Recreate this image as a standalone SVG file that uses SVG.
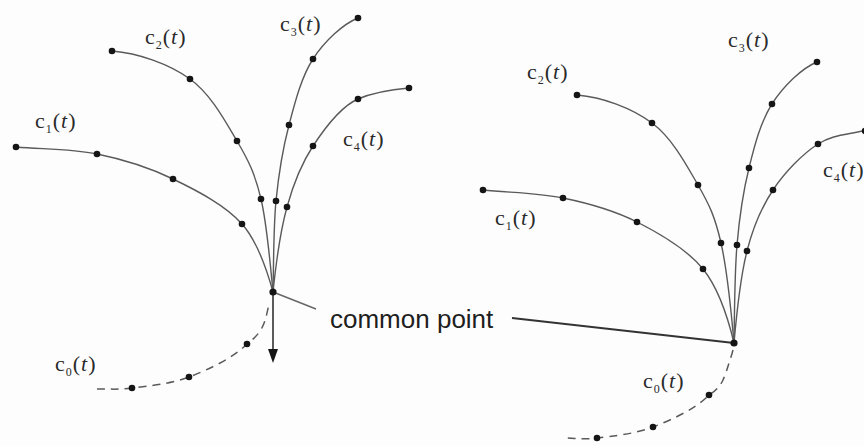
<svg xmlns="http://www.w3.org/2000/svg" width="864" height="446" viewBox="0 0 864 446">
<defs>
<style>
.crv{fill:none;stroke:#5a5a5a;stroke-width:1.4}
.dash{fill:none;stroke:#5a5a5a;stroke-width:1.5;stroke-dasharray:8 6}
.lead{fill:none;stroke:#333;stroke-width:1.8}
.dot{fill:#151515}
.lbl{font-family:"Liberation Serif","Times New Roman",serif;font-size:22px;fill:#2a2a2a;letter-spacing:1px}
.sub{font-size:12px}
.it{font-style:italic}
.cp{font-family:"Liberation Sans",Arial,sans-serif;font-size:26px;fill:#1e1e1e}
</style>
</defs>
<rect width="864" height="446" fill="#fdfdfd"/>
<g id="connectors">
<path class="crv" d="M16,147 C43,149.3 70.8,148.7 97,154 C123.2,159.3 148.8,167.3 173,179 C197.2,190.7 225.3,205.2 242,224 C258.7,242.8 267.7,272.7 273,292"/>
<path class="crv" d="M112,51 C138,53 169.2,64 190,79 C210.8,94 225.2,121 237,141 C248.8,161 255,173.8 261,199 C267,224.2 270.7,268.5 273,292"/>
<path class="crv" d="M358,18 C343,24 324.5,41.2 313,59 C301.5,76.8 295.2,101.3 289,125 C282.8,148.7 278.7,173.2 276,201 C273.3,228.8 273.7,268.8 273,292"/>
<path class="crv" d="M409,88 C392,89.5 372,93 358,99 C342,105.9 324.8,128 313,146 C301.2,164 293.7,182.7 287,207 C280.3,231.3 275.3,269.8 273,292"/>
<path class="dash" d="M268.2,307.7 C266,318 265,322 261,329.8 C256,337 252,340 247,344 C233,358.2 208.2,369.7 189,377 C169.8,384.3 147.3,386 132,388 C116.7,390 108.7,388.7 97,389"/>
<line x1="273" y1="292" x2="273" y2="352" style="stroke:#333;stroke-width:1.6"/>
<polygon points="268,349 278,349 273,363" fill="#151515"/>
<line x1="273" y1="292" x2="316" y2="309" style="stroke:#666;stroke-width:1.4"/>
<path class="crv" d="M483,190 C509.7,192.7 537.3,192.7 563,198 C588.7,203.3 613.7,210.2 637,222 C660.3,233.8 686.8,248.8 703,269 C719.2,289.2 728.8,321.2 734,343"/>
<path class="crv" d="M577,95 C602,97 631.8,108 652,123 C672.2,138 686.5,165 698,185 C709.5,205 715,216.7 721,243 C727,269.3 731.7,316.8 734,343"/>
<path class="crv" d="M817,62 C802,68 783.3,86.3 772,104 C760.7,121.7 754.8,144.5 749,168 C743.2,191.5 739.5,215.8 737,245 C734.5,274.2 734.5,317.2 734,343"/>
<path class="crv" d="M866,130 C850,134.7 833.5,134 818,144 C802.5,154 784.8,172.2 773,190 C761.2,207.8 753.5,225.5 747,251 C740.5,276.5 736.2,318.2 734,343"/>
<path class="dash" d="M733,350 C731.5,356 729.7,360.5 729.7,360.5 C727,370 725,376 722.5,381 C719,388 714,392 709,395 C695.5,409 671.7,419.8 653,427 C634.3,434.2 611.7,436.2 597,438 C582.3,439.8 575.7,438 565,438"/>
<line class="lead" x1="512" y1="318" x2="734" y2="343"/>
</g>
<g id="dots-left">
<circle class="dot" cx="16" cy="147" r="3.3"/>
<circle class="dot" cx="97" cy="154" r="3.3"/>
<circle class="dot" cx="173" cy="179" r="3.3"/>
<circle class="dot" cx="242" cy="224" r="3.3"/>
<circle class="dot" cx="112" cy="51" r="3.3"/>
<circle class="dot" cx="190" cy="79" r="3.3"/>
<circle class="dot" cx="237" cy="141" r="3.3"/>
<circle class="dot" cx="261" cy="199" r="3.3"/>
<circle class="dot" cx="358" cy="18" r="3.3"/>
<circle class="dot" cx="313" cy="59" r="3.3"/>
<circle class="dot" cx="289" cy="125" r="3.3"/>
<circle class="dot" cx="276" cy="201" r="3.3"/>
<circle class="dot" cx="409" cy="88" r="3.3"/>
<circle class="dot" cx="358" cy="99" r="3.3"/>
<circle class="dot" cx="313" cy="146" r="3.3"/>
<circle class="dot" cx="287" cy="207" r="3.3"/>
<circle class="dot" cx="247" cy="344" r="3.3"/>
<circle class="dot" cx="189" cy="377" r="3.3"/>
<circle class="dot" cx="132" cy="388" r="3.3"/>
</g>
<g id="common-left"><circle class="dot" cx="273" cy="292" r="3.6"/></g>
<g id="dots-right">
<circle class="dot" cx="483" cy="190" r="3.3"/>
<circle class="dot" cx="563" cy="198" r="3.3"/>
<circle class="dot" cx="637" cy="222" r="3.3"/>
<circle class="dot" cx="703" cy="269" r="3.3"/>
<circle class="dot" cx="577" cy="95" r="3.3"/>
<circle class="dot" cx="652" cy="123" r="3.3"/>
<circle class="dot" cx="698" cy="185" r="3.3"/>
<circle class="dot" cx="721" cy="243" r="3.3"/>
<circle class="dot" cx="817" cy="62" r="3.3"/>
<circle class="dot" cx="772" cy="104" r="3.3"/>
<circle class="dot" cx="749" cy="168" r="3.3"/>
<circle class="dot" cx="737" cy="245" r="3.3"/>
<circle class="dot" cx="865" cy="131" r="3.3"/>
<circle class="dot" cx="818" cy="144" r="3.3"/>
<circle class="dot" cx="773" cy="190" r="3.3"/>
<circle class="dot" cx="747" cy="251" r="3.3"/>
<circle class="dot" cx="709" cy="395" r="3.3"/>
<circle class="dot" cx="653" cy="427" r="3.3"/>
<circle class="dot" cx="597" cy="438" r="3.3"/>
</g>
<g id="common-right"><circle class="dot" cx="734" cy="343" r="3.6"/></g>
<g id="labels">
<text class="lbl" x="35" y="128">c<tspan class="sub" dy="5">1</tspan><tspan dy="-5">(</tspan><tspan class="it">t</tspan>)</text>
<text class="lbl" x="145" y="44">c<tspan class="sub" dy="5">2</tspan><tspan dy="-5">(</tspan><tspan class="it">t</tspan>)</text>
<text class="lbl" x="280" y="31">c<tspan class="sub" dy="5">3</tspan><tspan dy="-5">(</tspan><tspan class="it">t</tspan>)</text>
<text class="lbl" x="343" y="146">c<tspan class="sub" dy="5">4</tspan><tspan dy="-5">(</tspan><tspan class="it">t</tspan>)</text>
<text class="lbl" x="55" y="371">c<tspan class="sub" dy="5">0</tspan><tspan dy="-5">(</tspan><tspan class="it">t</tspan>)</text>
<text class="lbl" x="495" y="225">c<tspan class="sub" dy="5">1</tspan><tspan dy="-5">(</tspan><tspan class="it">t</tspan>)</text>
<text class="lbl" x="527" y="79">c<tspan class="sub" dy="5">2</tspan><tspan dy="-5">(</tspan><tspan class="it">t</tspan>)</text>
<text class="lbl" x="728" y="47">c<tspan class="sub" dy="5">3</tspan><tspan dy="-5">(</tspan><tspan class="it">t</tspan>)</text>
<text class="lbl" x="823" y="177">c<tspan class="sub" dy="5">4</tspan><tspan dy="-5">(</tspan><tspan class="it">t</tspan>)</text>
<text class="lbl" x="643" y="388">c<tspan class="sub" dy="5">0</tspan><tspan dy="-5">(</tspan><tspan class="it">t</tspan>)</text>
<text class="cp" x="330" y="328">common point</text>
</g>
</svg>
